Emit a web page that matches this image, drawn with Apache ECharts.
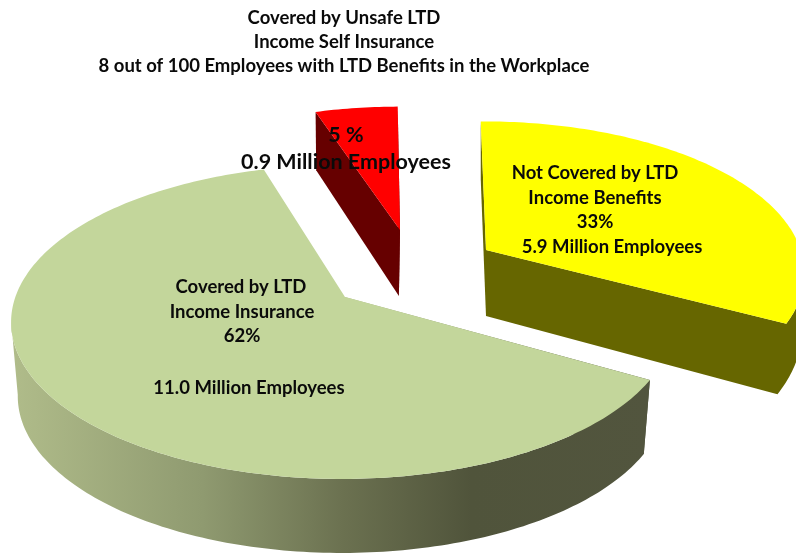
<!DOCTYPE html>
<html>
<head>
<meta charset="utf-8">
<style>
  html, body { margin: 0; padding: 0; background: #fff; }
  #chart { width: 796px; height: 554px; }
</style>
<script src="https://cdn.jsdelivr.net/npm/echarts@6/dist/echarts.min.js"></script>
</head>
<body>
<div id="chart"></div>
<script>
// Share of employees, percent, listed clockwise from the top of the pie
const sliceNames = ['Unsafe self insurance', 'Not covered', 'Covered by insurance'];
const sharePercent = [5, 33, 62];

const titleLines = [
  'Covered by Unsafe LTD',
  'Income Self Insurance',
  '8 out of 100 Employees with LTD Benefits in the Workplace'
];

const labelLines = [
  '5 %', '0.9 Million Employees',
  'Not Covered by LTD', 'Income Benefits', '33%', '5.9 Million Employees',
  'Covered by LTD', 'Income Insurance', '62%', '11.0 Million Employees'
];

// Where each line of labelLines sits: [centre x, centre y, font size]
const labelPlaces = [
  [346, 135, 21.5], [346, 162, 21.5],
  [595, 173, 18.5], [595, 198, 18.5], [595, 222, 18.5], [612, 247, 18.5],
  [241, 287, 18.5], [242, 312, 18.5], [242, 336, 18.5], [249, 388, 18.5]
];

// Tilted-disc projection
const view = {
  centerX: 345, centerY: 297,
  radiusX: 327, radiusY: 153,
  perspective: 0.159, lateral: 0.008,
  wallInset: 0.98,
  startAngle: 106.6
};

// Exploded position and look of each slice. depth is the wall height,
// depthSlope how much of it grows towards the viewer, insetRamp how far
// forward on the disc the wall lean takes to build up (0 = everywhere).
const sliceStyles = [
  { dx: 55, dy: -67, turn: 1.9, scale: 0.925, depth: 66, depthSlope: 65, insetRamp: 0, top: '#ff0000', wall: '#660000' },
  { dx: 141, dy: -47, turn: 2.5, scale: 0.97, depth: 66, depthSlope: 65, insetRamp: 0.45, top: '#ffff00', wall: '#666600' },
  {
    dx: 0, dy: 0, turn: 0, scale: 1, depth: 74, depthSlope: 0, insetRamp: 0, top: '#c3d69b',
    wall: {
      type: 'linear', x: 0, y: 0, x2: 1, y2: 0,
      colorStops: [
        { offset: 0, color: '#b0bc8a' },
        { offset: 0.3, color: '#8f9a70' },
        { offset: 0.52, color: '#6b7150' },
        { offset: 0.72, color: '#50543b' },
        { offset: 1, color: '#52553e' }
      ]
    }
  }
];

const total = sharePercent.reduce((a, b) => a + b, 0);

function sliceAngles(index) {
  let before = 0;
  for (let i = 0; i < index; i++) before += sharePercent[i];
  const from = view.startAngle - before / total * 360;
  return [from, from - sharePercent[index] / total * 360];
}

// Ground coordinates on the disc to screen pixels; returns top and bottom of the solid
function project(style, angleDeg, r) {
  const a = angleDeg * Math.PI / 180;
  const u = r * Math.cos(a), v = r * Math.sin(a);
  const w = 1 / (1 + view.perspective * v + view.lateral * u);
  const x = view.centerX + style.dx + view.radiusX * u * w;
  const y = view.centerY + style.dy - view.radiusY * v * w;
  const lean = style.insetRamp ? Math.min(1, Math.max(0, -v / style.insetRamp)) : 1;
  return {
    front: v <= 0,
    top: [x, y],
    bottom: [
      x - (x - view.centerX) * (1 - view.wallInset) * lean,
      y + style.depth + style.depthSlope * (w - 1)
    ]
  };
}

function polygon(points, fill) {
  return {
    type: 'polygon',
    shape: { points: points },
    style: { fill: fill, stroke: null }
  };
}

function indexOfBest(list, score) {
  let best = 0;
  list.forEach((p, i) => { if (score(p) > score(list[best])) best = i; });
  return best;
}

function renderSlice(params, api) {
  const i = params.dataIndex;
  const style = sliceStyles[i];
  const angles = sliceAngles(i);
  const from = angles[0] + style.turn;
  const to = angles[1] + style.turn;
  const steps = Math.max(4, Math.round(Math.abs(from - to)));

  const rim = [];
  for (let s = 0; s <= steps; s++) {
    rim.push(project(style, from + (to - from) * s / steps, style.scale));
  }
  const apex = project(style, 0, 0);
  const first = rim[0], last = rim[rim.length - 1];
  const apexX = apex.top[0];

  // The outer wall only shows from the widest rim point round to the front,
  // so it is closed along the silhouette line there
  const frontRim = rim.filter(p => p.front);
  let wallOutline;
  if (frontRim.length > 1) {
    const widest = indexOfBest(frontRim, p => Math.abs(p.top[0] - apexX));
    const lowest = indexOfBest(frontRim, p => p.bottom[1]);
    if (widest <= lowest) {
      // Wall runs on into the trailing cut face: one outline, no seam between them
      const part = frontRim.slice(widest);
      wallOutline = [apex.top]
        .concat(part.map(p => p.top).reverse())
        .concat(part.map(p => p.bottom))
        .concat([apex.bottom]);
    } else {
      const part = frontRim.slice(0, widest + 1);
      wallOutline = part.map(p => p.top).concat(part.map(p => p.bottom).reverse());
    }
  } else {
    wallOutline = [apex.top, last.top, last.bottom, apex.bottom];
  }

  return {
    type: 'group',
    children: [
      polygon([apex.top, first.top, first.bottom, apex.bottom], style.wall),
      polygon(wallOutline, style.wall),
      polygon([apex.top].concat(rim.map(p => p.top)), style.top)
    ]
  };
}

const chart = echarts.init(document.getElementById('chart'), null, { renderer: 'canvas' });

chart.setOption({
  backgroundColor: '#ffffff',
  animation: false,
  title: {
    text: titleLines.join('\n'),
    left: 339, top: 1,
    textAlign: 'center',
    textStyle: {
      fontFamily: 'Lato', fontWeight: 'bold', fontSize: 18.5,
      lineHeight: 24, color: '#0a0a0a'
    }
  },
  series: [{
    type: 'custom',
    coordinateSystem: 'none',
    name: 'Employees by LTD coverage',
    silent: true,
    clip: false,
    data: sharePercent.map((v, i) => ({ name: sliceNames[i], value: [v] })),
    renderItem: renderSlice
  }],
  graphic: labelLines.map((text, i) => ({
    type: 'text',
    z: 100,
    silent: true,
    x: labelPlaces[i][0],
    y: labelPlaces[i][1],
    style: {
      text: text,
      align: 'center',
      verticalAlign: 'middle',
      fill: '#0a0a0a',
      font: 'bold ' + labelPlaces[i][2] + 'px Lato'
    }
  }))
});
</script>
</body>
</html>
